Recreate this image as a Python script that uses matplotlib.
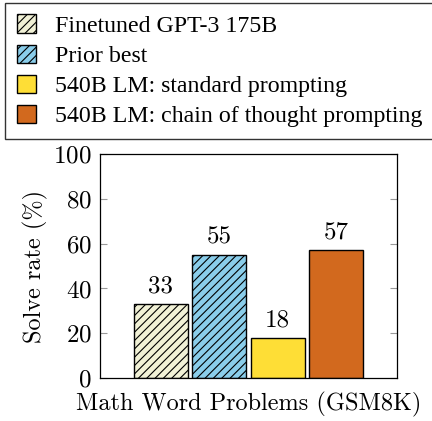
import numpy as np
import matplotlib.pyplot as plt
from matplotlib.patches import Patch

plt.rcParams['font.family'] = 'cmr10'
plt.rcParams['mathtext.fontset'] = 'cm'
plt.rcParams['axes.formatter.use_mathtext'] = True
plt.rcParams['hatch.linewidth'] = 0.8

labels = ['Finetuned GPT-3 175B', 'Prior best',
          '540B LM: standard prompting', '540B LM: chain of thought prompting']
values = [33, 55, 18, 57]
colors = ['#F1F1D6', '#8ACDEA', '#FEDE36', '#D2691E']
hatches = ['////', '////', '', '']

fig = plt.figure(figsize=(4.32, 4.21), dpi=100)
ax = fig.add_axes([0.2315, 0.102, 0.6875, 0.532])

x = np.arange(len(values))
bars = ax.bar(x, values, width=0.92, color=colors, edgecolor='black',
              linewidth=1.0, hatch=hatches)
for b, v in zip(bars, values):
    ax.text(b.get_x() + b.get_width() / 2, v + 3, str(v),
            ha='center', va='bottom', fontsize=18)

ax.set_xlim(-1.04, 4.04)
ax.set_ylim(0, 100)
ax.set_yticks([0, 20, 40, 60, 80, 100])
ax.set_xticks([])
ax.tick_params(axis='y', direction='in', length=5, width=0.8, color='#999999',
               labelsize=18, left=True, right=True, pad=6)
ax.set_ylabel('Solve rate (%)', fontsize=17.5, labelpad=4)
ax.set_xlabel('Math Word Problems (GSM8K)', fontsize=17.5, labelpad=10)
for s in ax.spines.values():
    s.set_linewidth(0.9)

handles = [Patch(facecolor=c, edgecolor='black', hatch=h, linewidth=1.0)
           for c, h in zip(colors, hatches)]
fig.legend(handles, labels, loc='upper left', bbox_to_anchor=(0.012, 0.994),
           borderaxespad=0,
           prop={'family': 'Liberation Serif', 'size': 17.2}, fancybox=False,
           edgecolor='#333333', framealpha=1, handlelength=0.8, handleheight=0.8,
           handletextpad=0.8, labelspacing=0.32, borderpad=0.5)

fig.savefig('out.png', dpi=100)
